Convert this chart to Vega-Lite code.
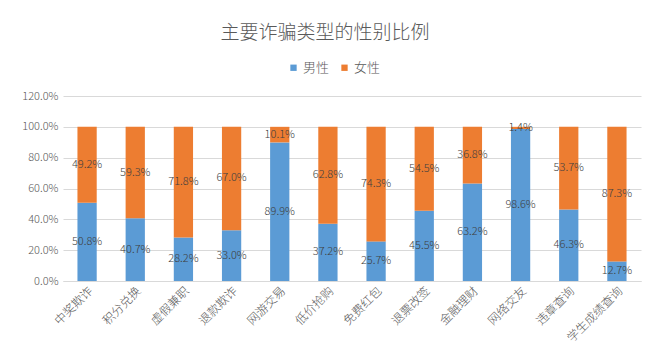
{
  "$schema": "https://vega.github.io/schema/vega-lite/v6.json",
  "width": 578,
  "height": 185,
  "autosize": {"type": "none"},
  "padding": {"left": 63, "top": 96, "right": 6, "bottom": 81},
  "background": "white",
  "title": {
    "text": "主要诈骗类型的性别比例",
    "fontSize": 19,
    "font": "Noto Sans CJK SC",
    "fontWeight": 300,
    "color": "#595959",
    "baseline": "alphabetic",
    "offset": 3,
    "dx": -27
  },
  "config": {
    "font": "Noto Sans CJK SC",
    "view": {"stroke": null},
    "axisY": {
      "values": [0, 0.2, 0.4, 0.6, 0.8, 1.0, 1.2],
      "format": ".1%",
      "labelFontSize": 11,
      "labelFontWeight": 300,
      "labelColor": "#595959",
      "labelPadding": 5,
      "labelOverlap": false,
      "ticks": false,
      "domain": false,
      "gridColor": "#D9D9D9",
      "gridWidth": 1,
      "title": null
    }
  },
  "data": {
    "values": [
      {"type": "中奖欺诈", "gender": "男性", "value": 0.508},
      {"type": "中奖欺诈", "gender": "女性", "value": 0.492},
      {"type": "积分兑换", "gender": "男性", "value": 0.407},
      {"type": "积分兑换", "gender": "女性", "value": 0.593},
      {"type": "虚假兼职", "gender": "男性", "value": 0.282},
      {"type": "虚假兼职", "gender": "女性", "value": 0.718},
      {"type": "退款欺诈", "gender": "男性", "value": 0.330},
      {"type": "退款欺诈", "gender": "女性", "value": 0.670},
      {"type": "网游交易", "gender": "男性", "value": 0.899},
      {"type": "网游交易", "gender": "女性", "value": 0.101},
      {"type": "低价抢购", "gender": "男性", "value": 0.372},
      {"type": "低价抢购", "gender": "女性", "value": 0.628},
      {"type": "免费红包", "gender": "男性", "value": 0.257},
      {"type": "免费红包", "gender": "女性", "value": 0.743},
      {"type": "退票改签", "gender": "男性", "value": 0.455},
      {"type": "退票改签", "gender": "女性", "value": 0.545},
      {"type": "金融理财", "gender": "男性", "value": 0.632},
      {"type": "金融理财", "gender": "女性", "value": 0.368},
      {"type": "网络交友", "gender": "男性", "value": 0.986},
      {"type": "网络交友", "gender": "女性", "value": 0.014},
      {"type": "违章查询", "gender": "男性", "value": 0.463},
      {"type": "违章查询", "gender": "女性", "value": 0.537},
      {"type": "学生成绩查询", "gender": "男性", "value": 0.127},
      {"type": "学生成绩查询", "gender": "女性", "value": 0.873}
    ]
  },
  "transform": [
    {"stack": "value", "groupby": ["type"], "sort": [{"field": "gender", "order": "descending"}], "as": ["v0", "v1"]},
    {"calculate": "(datum.v0 + datum.v1) / 2", "as": "mid"}
  ],
  "encoding": {
    "x": {
      "field": "type",
      "type": "nominal",
      "sort": null,
      "title": null,
      "scale": {"paddingInner": 0.6, "paddingOuter": 0.3},
      "axis": {
        "labelAngle": -45,
        "labelFontSize": 12,
        "labelFontWeight": 300,
        "labelColor": "#595959",
        "labelPadding": 4,
        "ticks": false,
        "domainColor": "#D9D9D9",
        "domainWidth": 1
      }
    }
  },
  "layer": [
    {
      "mark": {"type": "bar"},
      "encoding": {
        "y": {
          "field": "v1",
          "type": "quantitative",
          "title": null,
          "scale": {"domain": [0, 1.2], "nice": false}
        },
        "y2": {"field": "v0"},
        "color": {
          "field": "gender",
          "type": "nominal",
          "scale": {"domain": ["男性", "女性"], "range": ["#5B9BD5", "#ED7D31"]},
          "legend": {
            "title": null,
            "orient": "none",
            "direction": "horizontal",
            "legendX": 224,
            "legendY": -35,
            "symbolType": "square",
            "symbolSize": 40,
            "symbolStrokeWidth": 0,
            "labelFontSize": 13,
            "labelFontWeight": 300,
            "labelColor": "#595959",
            "labelOffset": 3,
            "columnPadding": 8,
            "padding": 0
          }
        }
      }
    },
    {
      "mark": {"type": "text", "fontSize": 11, "fontWeight": 300, "color": "#404040", "baseline": "middle", "align": "center"},
      "encoding": {
        "y": {"field": "mid", "type": "quantitative", "title": null},
        "text": {"field": "value", "type": "quantitative", "format": ".1%"}
      }
    }
  ]
}
